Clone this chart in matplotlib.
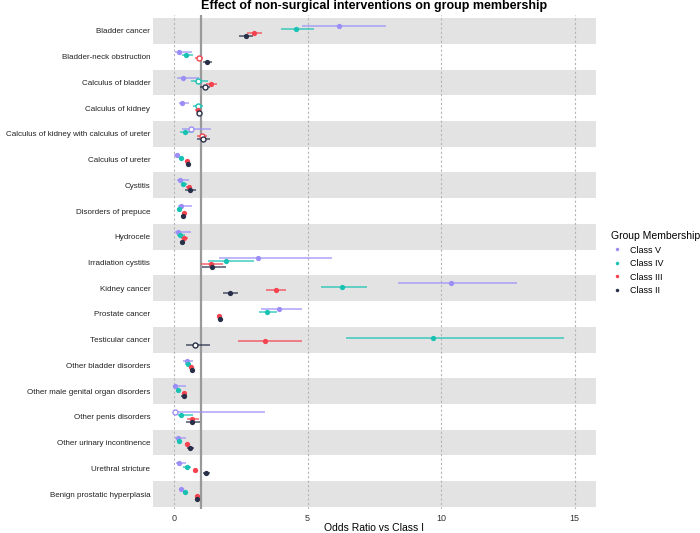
import numpy as np
import matplotlib as mpl
mpl.use('Agg')
import matplotlib.pyplot as plt
from matplotlib.lines import Line2D

plt.rcParams['font.family'] = ['Liberation Sans', 'DejaVu Sans']

categories = ['Bladder cancer', 'Bladder-neck obstruction', 'Calculus of bladder',
              'Calculus of kidney', 'Calculus of kidney with calculus of ureter',
              'Calculus of ureter', 'Cystitis', 'Disorders of prepuce', 'Hydrocele',
              'Irradiation cystitis', 'Kidney cancer', 'Prostate cancer',
              'Testicular cancer', 'Other bladder disorders',
              'Other male genital organ disorders', 'Other penis disorders',
              'Other urinary incontinence', 'Urethral stricture',
              'Benign prostatic hyperplasia']

classes = ['Class V', 'Class IV', 'Class III', 'Class II']
colors = ['#9b8ff7', '#17c2b3', '#f4434f', '#283049']

# odds ratios and 95% CI per class (nan = not estimated)
or_v  = [6.17, 0.19, 0.32, 0.31, 0.62, 0.10, 0.21, 0.27, 0.16, 3.16, 10.37, 3.94, np.nan, 0.49, 0.05, 0.02, 0.14, 0.19, 0.26]
lo_v  = [4.80, 0.05, 0.12, 0.20, 0.30, 0.00, 0.10, 0.15, 0.05, 1.68, 8.37, 3.25, np.nan, 0.35, 0.00, 0.00, 0.05, 0.07, 0.19]
hi_v  = [7.95, 0.67, 0.92, 0.55, 1.38, 0.20, 0.55, 0.67, 0.63, 5.91, 12.86, 4.79, np.nan, 0.70, 0.45, 3.42, 0.45, 0.43, 0.34]

or_iv = [4.58, 0.46, 0.88, 0.90, 0.39, 0.27, 0.35, 0.19, 0.22, 1.95, 6.29, 3.48, 9.68, 0.52, 0.16, 0.27, 0.17, 0.49, 0.40]
lo_iv = [3.99, 0.30, 0.64, 0.72, 0.22, 0.19, 0.24, 0.10, 0.10, 1.27, 5.49, 3.17, 6.42, 0.42, 0.07, 0.15, 0.10, 0.35, 0.33]
hi_iv = [5.25, 0.70, 1.27, 1.07, 0.72, 0.35, 0.49, 0.27, 0.40, 3.01, 7.22, 3.84, 14.59, 0.62, 0.26, 0.72, 0.25, 0.65, 0.47]

or_iii = [3.01, 0.93, 1.37, 0.88, 1.03, 0.49, 0.55, 0.36, 0.37, 1.37, 3.82, 1.67, 3.40, 0.63, 0.37, 0.66, 0.49, 0.78, 0.87]
lo_iii = [2.73, 0.80, 1.19, 0.80, 0.85, 0.42, 0.45, 0.28, 0.27, 1.02, 3.46, 1.59, 2.39, 0.56, 0.29, 0.47, 0.40, 0.69, 0.79]
hi_iii = [3.31, 1.09, 1.62, 0.97, 1.24, 0.56, 0.65, 0.43, 0.51, 1.82, 4.20, 1.76, 4.80, 0.70, 0.45, 0.93, 0.58, 0.87, 0.94]

or_ii = [2.70, 1.23, 1.15, 0.95, 1.07, 0.51, 0.60, 0.32, 0.31, 1.42, 2.09, 1.72, 0.78, 0.68, 0.37, 0.66, 0.61, 1.19, 0.85]
lo_ii = [2.44, 1.07, 0.98, 0.84, 0.87, 0.44, 0.42, 0.25, 0.23, 1.03, 1.83, 1.64, 0.45, 0.60, 0.26, 0.45, 0.49, 1.10, 0.77]
hi_ii = [2.96, 1.43, 1.34, 1.03, 1.33, 0.58, 0.82, 0.39, 0.39, 1.94, 2.41, 1.80, 1.34, 0.76, 0.49, 0.98, 0.74, 1.33, 0.93]

ors = [or_v, or_iv, or_iii, or_ii]
los = [lo_v, lo_iv, lo_iii, lo_ii]
his = [hi_v, hi_iv, hi_iii, hi_ii]
offsets = [-0.19, -0.064, 0.064, 0.19]

fig = plt.figure(figsize=(7, 5.33), dpi=100)
ax = fig.add_axes([153/700, 1-509/533, (596-153)/700, (509-15)/533])

n = len(categories)
ypos = np.arange(n)
for i in range(n):
    if i % 2 == 0:
        ax.axhspan(i-0.5, i+0.5, color='#e3e3e3', lw=0, zorder=0)

for xg in [0, 5, 10, 15]:
    ax.axvline(xg, color='#b5b5b5', lw=0.8, ls=(0, (2, 2)), zorder=1)
ax.axvline(1, color='#999999', lw=1.6, zorder=2)

for k in range(4):
    o = np.array(ors[k], dtype=float)
    lo = np.array(los[k], dtype=float)
    hi = np.array(his[k], dtype=float)
    y = ypos + offsets[k]
    ax.hlines(y, lo, hi, color=colors[k], lw=1.2, alpha=0.75, zorder=3)
    sig = (lo > 1) | (hi < 1)
    ax.plot(o[sig], y[sig], 'o', color=colors[k], ms=3.8, mew=0, zorder=4, ls='none')
    ns = ~sig & ~np.isnan(o)
    ax.plot(o[ns], y[ns], 'o', mfc='white', mec=colors[k], ms=3.6, mew=1.0, zorder=4, ls='none')

ax.set_xlim(-0.79, 15.8)
ax.set_ylim(n-0.5+0.08, -0.62)
ax.set_yticks(ypos)
ax.set_yticklabels(categories, fontsize=5.8, color='#222222')
ax.set_xticks([0, 5, 10, 15])
ax.set_xticklabels(['0', '5', '10', '15'], fontsize=6.5, color='#333333')
ax.tick_params(axis='y', length=0, pad=2)
ax.tick_params(axis='x', length=0, pad=3.5)
for s in ax.spines.values():
    s.set_visible(False)
ax.set_xlabel('Odds Ratio vs Class I', fontsize=7.5, labelpad=0)

fig.text(374/700, 1.0, 'Effect of non-surgical interventions on group membership',
         ha='center', va='top', fontsize=9, fontweight='bold')

handles = [Line2D([], [], marker='o', ls='none', color=c, ms=2.5, mew=0) for c in colors]
leg = fig.legend(handles, classes, loc='upper left', bbox_to_anchor=(611/700, 1-231/533),
                 frameon=False, fontsize=6.5, title='Group Membership', title_fontsize=7.5,
                 handletextpad=0.7, labelspacing=0.5, handlelength=1.4, borderaxespad=0,
                 borderpad=0)
leg._legend_box.align = 'left'

plt.savefig('out.png', dpi=100)
